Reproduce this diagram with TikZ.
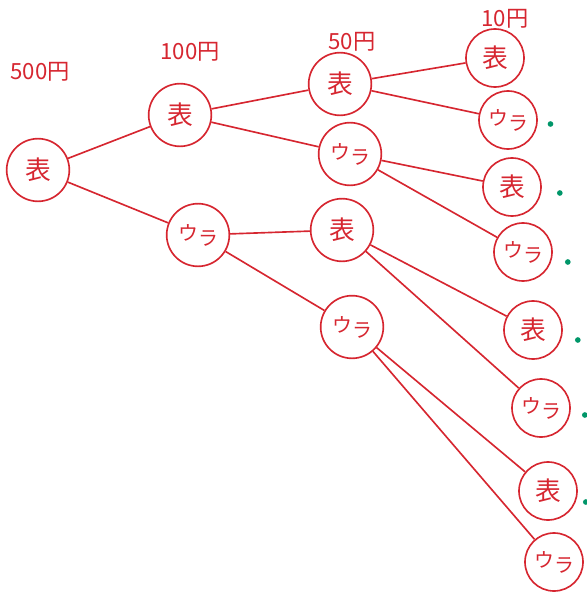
\documentclass[tikz,border=0pt]{standalone}
\usepackage{fontspec}
\newfontfamily\jpfont{Noto Sans CJK JP}
\usetikzlibrary{positioning}
\definecolor{penred}{RGB}{214,38,48}
\definecolor{pengreen}{RGB}{0,150,105}
\newcommand*\ura{{\fontsize{17}{17}\selectfont ウ\raisebox{-0.45ex}{ラ}}}
\tikzset{coin/.cd,
         face/.style={draw=penred,circle,inner sep=0pt,minimum size=1.88cm,
                      text=penred,font=\jpfont\fontsize{22}{22}\selectfont},
         leaf/.style={coin/face,minimum size=1.74cm},
         price/.style={text=penred,font=\jpfont\fontsize{19}{19}\selectfont},
         dot/.style={circle,fill=pengreen,inner sep=0pt,minimum size=0.17cm}}

\begin{document}
\begin{tikzpicture}[x=0.03cm,y=-0.03cm,line width=1.4pt]
\useasboundingbox (0,0) rectangle (586,593);
% prices
\node[coin/price] (p500) at (40,72) {500円};
\node[coin/price] (p100) at (190,52) {100円};
\node[coin/price] (p50) at (352,42) {50円};
\node[coin/price] (p10) at (505,19) {10円};
% coins
\node[coin/face] (root) at (38,170) {表};
\node[coin/face] (a1) at (180,115) {表};
\node[coin/face] (a2) at (198,235) {\ura};
\node[coin/face] (b1) at (340,84) {表};
\node[coin/face] (b2) at (350,154) {\ura};
\node[coin/face] (b3) at (342,230) {表};
\node[coin/face] (b4) at (352,327) {\ura};
\foreach \i/\x/\y/\txt in {1/495/58/表,2/508/120/\ura,3/512/187/表,4/523/252/\ura,
                           5/533/330/表,6/541/408/\ura,7/548/491/表,8/554/562/\ura}
  \node[coin/leaf] (c\i) at (\x,\y) {\txt};
% branches
\foreach \from/\to in {root/a1,root/a2,a1/b1,a1/b2,a2/b3,a2/b4,
                       b1/c1,b1/c2,b2/c3,b2/c4,b3/c5,b3/c6,b4/c7,b4/c8}
  \draw[penred] (\from) -- (\to);
% marks
\foreach \i/\gap/\drop in {2/0.27/0.12,3/0.43/0.18,4/0.34/0.3,5/0.34/0.3,6/0.31/0.21,7/0.13/0.33}
  \node[coin/dot,right=\gap cm of c\i,yshift=-\drop cm] (d\i) {};
\end{tikzpicture}
\end{document}
